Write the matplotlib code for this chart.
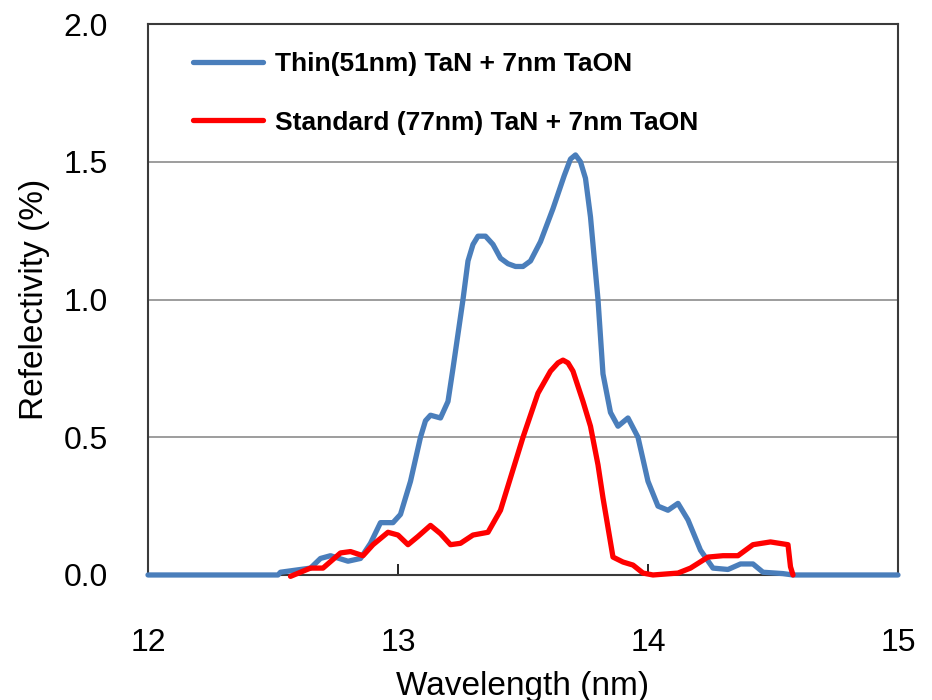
import matplotlib
matplotlib.use("Agg")
import matplotlib.pyplot as plt

# wavelength (nm) / reflectivity (%)
thin_x = [12.0, 12.52, 12.53, 12.65, 12.69, 12.73, 12.80, 12.85, 12.89, 12.93,
          12.98, 13.01, 13.05, 13.09, 13.11, 13.13, 13.17, 13.20, 13.22, 13.26,
          13.28, 13.30, 13.32, 13.35, 13.38, 13.41, 13.44, 13.47, 13.50, 13.53,
          13.57, 13.62, 13.665, 13.69, 13.71, 13.73, 13.75, 13.77, 13.79, 13.80,
          13.82, 13.85, 13.88, 13.92, 13.96, 14.00, 14.04, 14.08, 14.12, 14.16,
          14.21, 14.26, 14.32, 14.37, 14.42, 14.46, 14.54, 14.58, 15.0]
thin_y = [0.0, 0.0, 0.01, 0.025, 0.06, 0.07, 0.05, 0.06, 0.115, 0.19,
          0.19, 0.22, 0.34, 0.50, 0.56, 0.58, 0.57, 0.63, 0.75, 1.00,
          1.14, 1.20, 1.23, 1.23, 1.20, 1.15, 1.13, 1.12, 1.12, 1.14,
          1.21, 1.33, 1.45, 1.51, 1.525, 1.50, 1.44, 1.30, 1.10, 1.00,
          0.73, 0.59, 0.54, 0.57, 0.50, 0.34, 0.25, 0.235, 0.26, 0.20,
          0.09, 0.025, 0.02, 0.04, 0.04, 0.01, 0.005, 0.0, 0.0]

std_x = [12.57, 12.65, 12.70, 12.77, 12.81, 12.86, 12.90, 12.96, 13.00, 13.04,
         13.08, 13.13, 13.17, 13.21, 13.25, 13.30, 13.36, 13.41, 13.50, 13.56,
         13.61, 13.64, 13.66, 13.68, 13.70, 13.74, 13.77, 13.80, 13.82, 13.86,
         13.90, 13.94, 13.98, 14.02, 14.12, 14.17, 14.24, 14.30, 14.36, 14.42,
         14.49, 14.56, 14.57, 14.58]
std_y = [-0.005, 0.025, 0.025, 0.08, 0.085, 0.07, 0.11, 0.155, 0.145, 0.11,
         0.14, 0.18, 0.15, 0.11, 0.115, 0.145, 0.155, 0.235, 0.50, 0.66,
         0.74, 0.77, 0.78, 0.77, 0.74, 0.63, 0.54, 0.40, 0.28, 0.065,
         0.047, 0.036, 0.007, 0.0, 0.007, 0.025, 0.065, 0.07, 0.07, 0.11,
         0.12, 0.11, 0.03, 0.0]

labels = ["Thin(51nm) TaN + 7nm TaON", "Standard (77nm) TaN + 7nm TaON"]
xticks = [12, 13, 14, 15]
yticks = [0.0, 0.5, 1.0, 1.5, 2.0]

plt.rcParams['font.family'] = ['Liberation Sans', 'DejaVu Sans']

fig = plt.figure(figsize=(9.32, 7), dpi=100)
ax = fig.add_axes([0.1588, 0.1786, 0.8047, 0.787])

ax.plot(thin_x, thin_y, color='#4a7ebb', lw=3.8, label=labels[0], clip_on=False,
        solid_capstyle='round', solid_joinstyle='round', zorder=3)
ax.plot(std_x, std_y, color='#ff0000', lw=3.8, label=labels[1], clip_on=False,
        solid_capstyle='round', solid_joinstyle='round', zorder=3)

ax.set_xlim(12, 15)
ax.set_ylim(0, 2.0)
ax.set_xticks(xticks)
ax.set_yticks(yticks)
ax.set_yticklabels([f'{v:.1f}' for v in yticks])
ax.grid(axis='y', color='#8c8c8c', lw=1.2)
ax.set_axisbelow(True)
for s in ax.spines.values():
    s.set_color('#3a3a3a')
    s.set_linewidth(1.5)

ax.tick_params(axis='x', direction='in', length=8, width=1.2, pad=38, labelsize=23)
ax.tick_params(axis='y', direction='in', length=0, pad=29, labelsize=23)

ax.set_xlabel('Wavelength (nm)', fontsize=24)
ax.set_ylabel('Refelectivity (%)', fontsize=24)
ax.xaxis.set_label_coords(0.5, -0.174)
ax.yaxis.set_label_coords(-0.131, 0.5)

ax.legend(loc='upper left', bbox_to_anchor=(0.028, 0.992), frameon=False,
          prop={'weight': 'bold', 'size': 19}, handlelength=2.65,
          labelspacing=1.3, handletextpad=0.45)

fig.savefig('out.png', dpi=100)
